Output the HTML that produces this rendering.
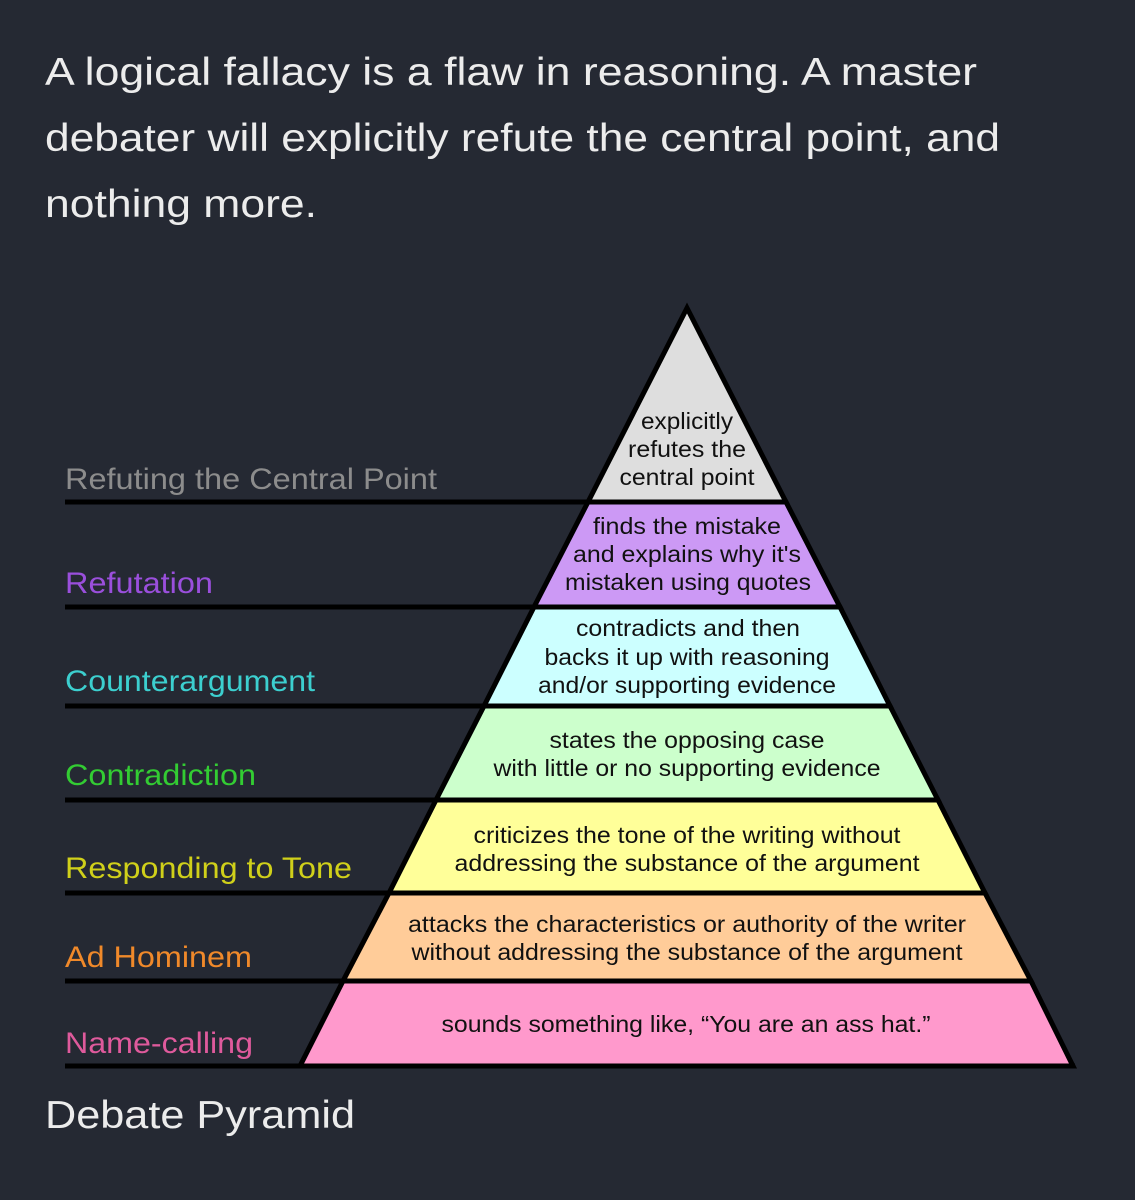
<!DOCTYPE html>
<html><head><meta charset="utf-8"><style>
html,body{margin:0;padding:0;background:#252933;}
svg{display:block}
</style></head><body>
<svg width="1135" height="1200" viewBox="0 0 1135 1200" xmlns="http://www.w3.org/2000/svg" font-family="Liberation Sans, sans-serif">
<rect width="1135" height="1200" fill="#252933"/>
<g fill="#ececec" font-size="39">
<text x="45" y="85" textLength="932" lengthAdjust="spacingAndGlyphs">A logical fallacy is a flaw in reasoning. A master</text>
<text x="45" y="151" textLength="955" lengthAdjust="spacingAndGlyphs">debater will explicitly refute the central point, and</text>
<text x="45" y="217" textLength="272" lengthAdjust="spacingAndGlyphs">nothing more.</text>
<text x="45" y="1128" textLength="310" lengthAdjust="spacingAndGlyphs">Debate Pyramid</text>
</g>
<g stroke="#000" stroke-width="5" stroke-linejoin="miter">
<polygon points="687,308 588,502 786,502" fill="#dedede"/>
<polygon points="588,502 534,607 840,607 786,502" fill="#cc99f5"/>
<polygon points="534,607 484,706 890,706 840,607" fill="#ccffff"/>
<polygon points="484,706 436,800 938,800 890,706" fill="#ccffcc"/>
<polygon points="436,800 389,893 985,893 938,800" fill="#ffff99"/>
<polygon points="389,893 343,981 1031,981 985,893" fill="#ffcc99"/>
<polygon points="343,981 300,1066 1073,1066 1031,981" fill="#ff99cc"/>
</g>
<g stroke="#000" stroke-width="5">
<line x1="65" y1="502" x2="590" y2="502"/>
<line x1="65" y1="607" x2="536" y2="607"/>
<line x1="65" y1="706" x2="486" y2="706"/>
<line x1="65" y1="800" x2="438" y2="800"/>
<line x1="65" y1="893" x2="391" y2="893"/>
<line x1="65" y1="981" x2="345" y2="981"/>
<line x1="65" y1="1066" x2="1075" y2="1066"/>
</g>
<g font-size="30">
<text x="65" y="489" fill="#8c8c8c" textLength="372" lengthAdjust="spacingAndGlyphs">Refuting the Central Point</text>
<text x="65" y="593" fill="#9a4fdc" textLength="148" lengthAdjust="spacingAndGlyphs">Refutation</text>
<text x="65" y="691" fill="#3ccfcf" textLength="250" lengthAdjust="spacingAndGlyphs">Counterargument</text>
<text x="65" y="785" fill="#33cc33" textLength="191" lengthAdjust="spacingAndGlyphs">Contradiction</text>
<text x="65" y="878" fill="#d0d01a" textLength="287" lengthAdjust="spacingAndGlyphs">Responding to Tone</text>
<text x="65" y="967" fill="#f0892a" textLength="187" lengthAdjust="spacingAndGlyphs">Ad Hominem</text>
<text x="65" y="1053" fill="#df5a9c" textLength="188" lengthAdjust="spacingAndGlyphs">Name-calling</text>
</g>
<g font-size="23" fill="#111" text-anchor="middle" lengthAdjust="spacingAndGlyphs">
<text x="687" y="429" textLength="92" lengthAdjust="spacingAndGlyphs">explicitly</text>
<text x="687" y="457" textLength="118" lengthAdjust="spacingAndGlyphs">refutes the</text>
<text x="687" y="485" textLength="135" lengthAdjust="spacingAndGlyphs">central point</text>
<text x="687" y="534" textLength="188" lengthAdjust="spacingAndGlyphs">finds the mistake</text>
<text x="687" y="562" textLength="228" lengthAdjust="spacingAndGlyphs">and explains why it's</text>
<text x="688" y="590" textLength="246" lengthAdjust="spacingAndGlyphs">mistaken using quotes</text>
<text x="688" y="636" textLength="224" lengthAdjust="spacingAndGlyphs">contradicts and then</text>
<text x="687" y="665" textLength="285" lengthAdjust="spacingAndGlyphs">backs it up with reasoning</text>
<text x="687" y="693" textLength="298" lengthAdjust="spacingAndGlyphs">and/or supporting evidence</text>
<text x="687" y="748" textLength="275" lengthAdjust="spacingAndGlyphs">states the opposing case</text>
<text x="687" y="776" textLength="387" lengthAdjust="spacingAndGlyphs">with little or no supporting evidence</text>
<text x="687" y="843" textLength="427" lengthAdjust="spacingAndGlyphs">criticizes the tone of the writing without</text>
<text x="687" y="871" textLength="465" lengthAdjust="spacingAndGlyphs">addressing the substance of the argument</text>
<text x="687" y="932" textLength="558" lengthAdjust="spacingAndGlyphs">attacks the characteristics or authority of the writer</text>
<text x="687" y="960" textLength="551" lengthAdjust="spacingAndGlyphs">without addressing the substance of the argument</text>
<text x="686" y="1032" textLength="489" lengthAdjust="spacingAndGlyphs">sounds something like, “You are an ass hat.”</text>
</g>
</svg>
</body></html>
